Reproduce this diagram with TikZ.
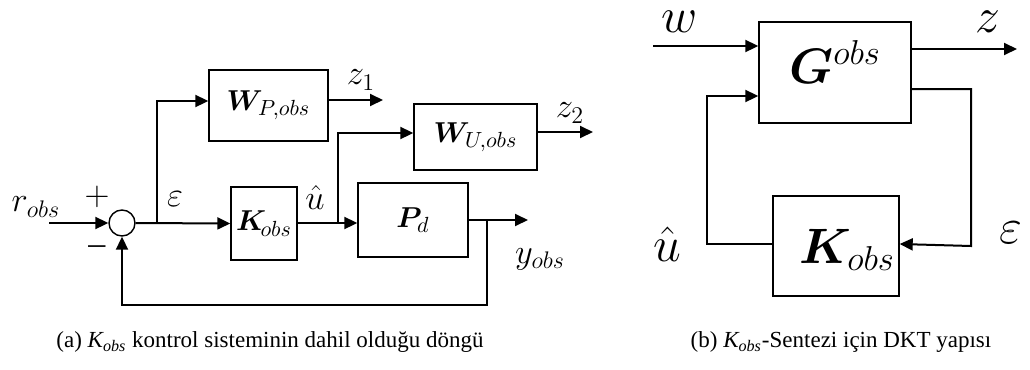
\documentclass[tikz,border=0pt]{standalone}
\usepackage{amsmath}
\usepackage{bm}
\usepackage{fontspec}
\setmainfont{Liberation Serif}
\usepackage{tikz}
\usetikzlibrary{arrows.meta,calc,positioning}

\begin{document}
\begin{tikzpicture}[x=0.5pt,y=-0.5pt,>={Triangle[length=6.5pt,width=6pt]},
  blk/.style={draw,line width=0.7pt,inner sep=0pt,font=\fontsize{15}{17}\selectfont},
  sumpt/.style={draw,circle,line width=0.7pt,minimum size=13pt,inner sep=0pt},
  sig/.style={line width=1pt},
  lbl/.style={inner sep=0pt,font=\fontsize{17}{19}\selectfont},
  biglbl/.style={inner sep=0pt,font=\fontsize{24}{26}\selectfont},
  captext/.style={inner sep=0pt,font=\fontsize{11.5}{13}\selectfont}]
\useasboundingbox (0,0) rectangle (1030,370);
% (a) the loop with the weights
\node[sumpt] (sum) at (122,223) {};
\node[blk,minimum width=33pt,minimum height=36.5pt] (K) at (264,223.5) {$\bm{K}_{\!obs}$};
\node[blk,minimum width=55pt,minimum height=37pt] (Pd) at (413,220) {$\bm{P}_{d}$};
\node[blk,minimum width=59.5pt,minimum height=35.5pt] (WP) at (268.5,105.5) {$\bm{W}_{P,obs}$};
\node[blk,minimum width=61.5pt,minimum height=33pt] (WU) at (475.5,137) {$\bm{W}_{U,obs}$};
\coordinate (rin) at (49,223);
\coordinate (ebr) at (157,223);
\coordinate (ubr) at (338,223);
\coordinate (ybr) at (487,220);
\coordinate (yout) at (528,220);
\coordinate (z1out) at (383,100);
\coordinate (z2out) at (593,132);
\coordinate (fb) at (487,305);
\draw[sig,->] (rin) -- (sum.west);
\draw[sig,->] (sum.east) -- (K.west);
\draw[sig,->] (ebr) |- (WP.west |- 0,101);
\draw[sig,->] (K.east |- ubr) -- (Pd.west |- ubr);
\draw[sig,->] (ubr) |- (WU.west |- 0,133);
\draw[sig,->] (Pd.east) -- (yout);
\draw[sig,->] (WP.east |- z1out) -- (z1out);
\draw[sig,->] (WU.east |- z2out) -- (z2out);
\draw[sig,->] (ybr) -- (fb) -| (sum.south);
\node[lbl] (r) at (36,207) {$r_{obs}$};
\node[lbl] (plus) at (97,197) {$+$};
\node[lbl] (minus) at (97,250) {–};
\node[lbl] (eps) at (175,199) {$\varepsilon$};
\node[lbl] (uh) at (315,197) {$\hat{u}$};
\node[lbl] (z1) at (361,80) {$z_1$};
\node[lbl] (z2) at (570,113) {$z_2$};
\node[lbl] (y) at (540,259) {$y_{obs}$};
% (b) the DKT structure
\node[blk,minimum width=76pt,minimum height=50.5pt] (G) at (835,72.5) {};
\node[biglbl] (Glbl) at (835,62) {$\bm{G}^{obs}$};
\node[blk,minimum width=63pt,minimum height=50pt] (K2) at (836,246) {};
\node[biglbl] (K2lbl) at (847,250) {$\bm{K}_{obs}$};
\coordinate (win) at (653,46);
\coordinate (zout) at (1017,49);
\coordinate (eright) at (971,89);
\coordinate (uleft) at (707,244);
\draw[sig,->] (win) -- (G.west |- win);
\draw[sig,->] (G.east |- zout) -- (zout);
\draw[sig,->] (G.east |- eright) -| (eright |- K2.east) -- (K2.east |- 0,244);
\draw[sig,->] (K2.west |- uleft) -- (uleft) |- (G.west |- 0,96);
\node[biglbl] (w) at (680,22) {$w$};
\node[biglbl] (z) at (988,22) {$z$};
\node[biglbl] (uh2) at (667,244) {$\hat{u}$};
\node[biglbl] (eps2) at (1011,233) {$\varepsilon$};
% captions
\node[captext] (capa) at (270,342) {(a) \textit{K\textsubscript{obs}} kontrol sisteminin dahil olduğu döngü};
\node[captext] (capb) at (841,342) {(b) \textit{K\textsubscript{obs}}-Sentezi için DKT yapısı};
\end{tikzpicture}
\end{document}
